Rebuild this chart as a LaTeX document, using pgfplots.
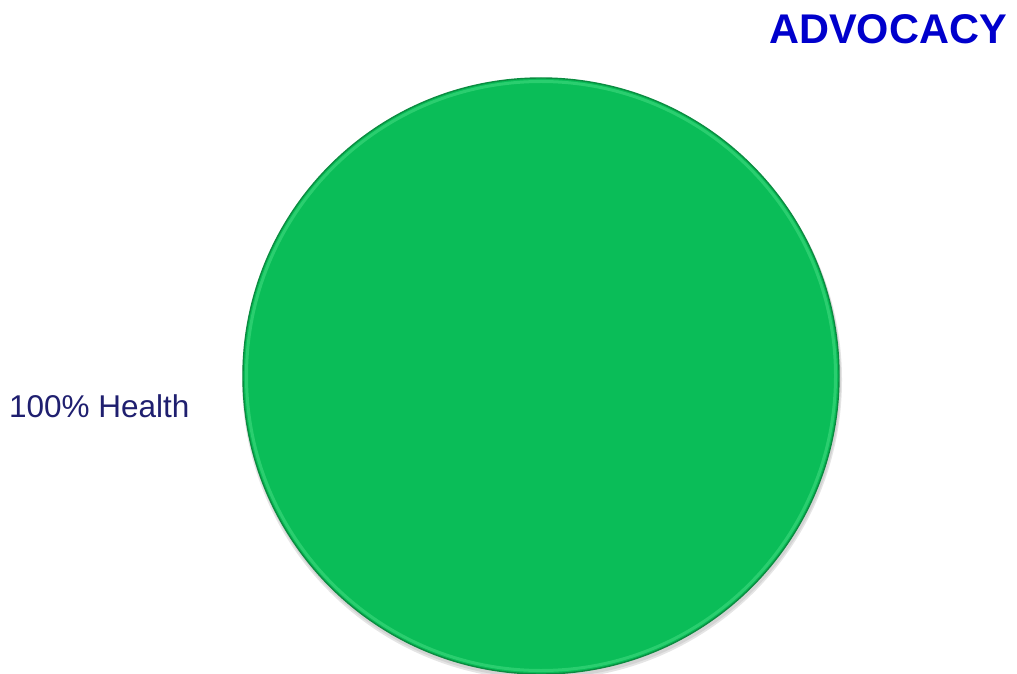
\documentclass[border=0pt]{standalone}
\usepackage{pgfplots}
\pgfplotsset{compat=1.18}
\usepackage{pgfplotstable}
\usepackage{fontspec}
\setmainfont{Liberation Sans}
\definecolor{piegreen}{RGB}{10,189,88}
\definecolor{pieedge}{RGB}{10,140,64}
\definecolor{pielight}{RGB}{70,220,130}
\definecolor{titleblue}{RGB}{0,0,204}
\definecolor{labelnavy}{RGB}{31,31,111}
\pgfplotstableread{
label value
Health 100
}\piedata
\begin{document}
\begin{tikzpicture}
\useasboundingbox (0,0) rectangle (1017pt,673pt);
\pgfplotstablegetelem{0}{value}\of\piedata
\pgfmathsetmacro{\pieval}{\pgfplotsretval}
\pgfmathsetmacro{\pieang}{\pieval/100*360}
\begin{axis}[
  at={(0,0)}, anchor=south west,
  scale only axis, width=1017pt, height=673pt,
  xmin=0, xmax=1017, ymin=0, ymax=673,
  hide axis, clip=false,
]
% soft shadow
\fill[black, opacity=0.10] (axis cs:542,293) circle[radius=300];
\fill[black, opacity=0.08] (axis cs:542,294) circle[radius=299];
% slice
\fill[piegreen] (axis cs:541,297) -- ++(90:298pt) arc[start angle=90, delta angle=-\pieang, radius=298pt] -- cycle;
% bevel highlight
\draw[pielight, line width=3pt, opacity=0.55] (axis cs:541,297) circle[radius=294.5];
\draw[pieedge, line width=1.4pt] (axis cs:541,297) circle[radius=298];
% labels
\node[anchor=base east, text=titleblue, font=\fontsize{41.5}{50}\selectfont\bfseries, inner sep=0pt] at (axis cs:1007,629) {ADVOCACY};
\node[anchor=base west, text=labelnavy, font=\fontsize{31.5}{38}\selectfont, inner sep=0pt] at (axis cs:9,256) {\pgfmathprintnumber[fixed,precision=0,assume math mode=true]{\pieval}\% Health};
\end{axis}
\end{tikzpicture}
\end{document}
